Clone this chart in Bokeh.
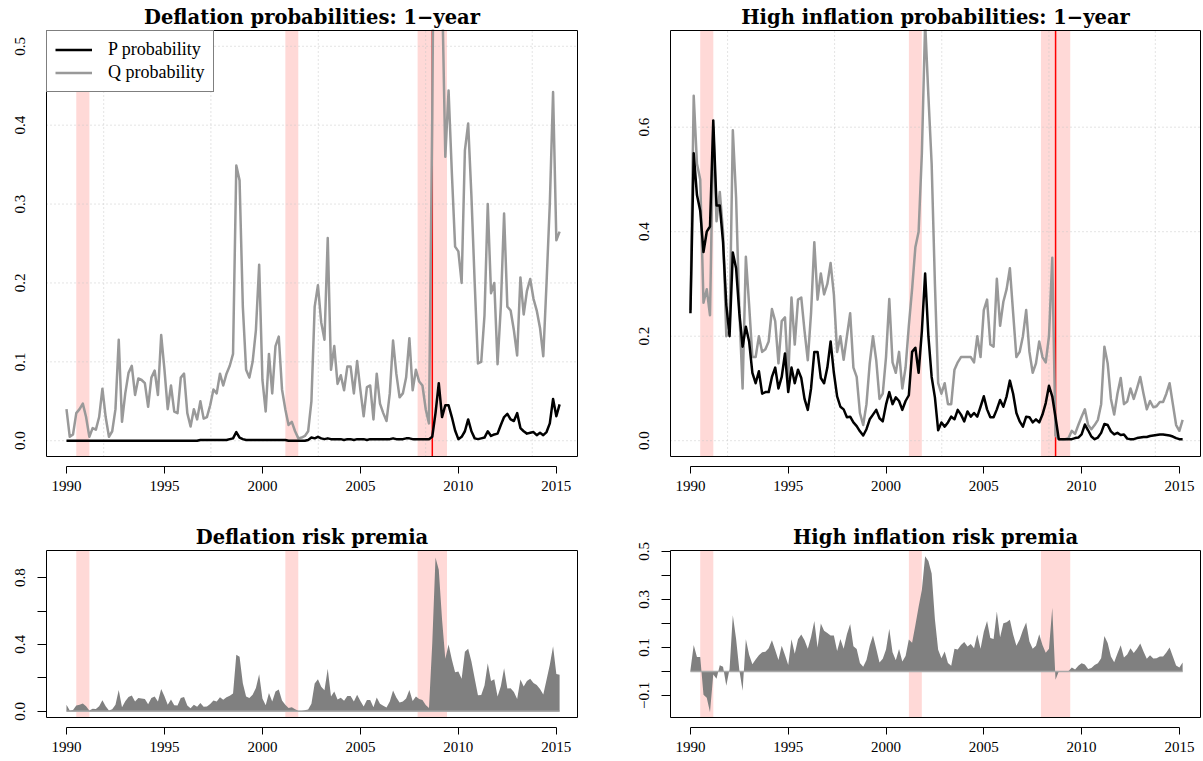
import numpy as np
from bokeh.plotting import figure
from bokeh.layouts import column, row
from bokeh.models import Range1d, FixedTicker, CustomJSTickFormatter, Legend
from bokeh.embed import file_html
from bokeh.resources import INLINE

FONT = "Liberation Serif"
TITLE_FONT = "DejaVu Serif"

# bi-monthly observations, January 1990 to March 2015
dates = 1990 + np.arange(152) / 6.0

# one-year deflation probabilities, physical (P) and risk-neutral (Q)
p_defl = [
    0.000, 0.000, 0.000, 0.000, 0.000, 0.000,  # 1990
    0.000, 0.000, 0.000, 0.000, 0.000, 0.000,  # 1991
    0.000, 0.000, 0.000, 0.000, 0.000, 0.000,  # 1992
    0.000, 0.000, 0.000, 0.000, 0.000, 0.000,  # 1993
    0.000, 0.000, 0.000, 0.000, 0.000, 0.000,  # 1994
    0.000, 0.000, 0.000, 0.000, 0.000, 0.000,  # 1995
    0.000, 0.000, 0.000, 0.000, 0.000, 0.001,  # 1996
    0.001, 0.001, 0.001, 0.001, 0.001, 0.001,  # 1997
    0.001, 0.001, 0.002, 0.003, 0.011, 0.004,  # 1998
    0.002, 0.001, 0.001, 0.001, 0.001, 0.001,  # 1999
    0.001, 0.001, 0.001, 0.001, 0.001, 0.001,  # 2000
    0.001, 0.001, 0.000, 0.000, 0.000, 0.000,  # 2001
    0.000, 0.000, 0.001, 0.004, 0.003, 0.005,  # 2002
    0.003, 0.002, 0.003, 0.002, 0.002, 0.002,  # 2003
    0.002, 0.001, 0.002, 0.002, 0.001, 0.002,  # 2004
    0.002, 0.002, 0.001, 0.002, 0.002, 0.002,  # 2005
    0.002, 0.002, 0.002, 0.002, 0.003, 0.002,  # 2006
    0.002, 0.002, 0.003, 0.003, 0.002, 0.002,  # 2007
    0.002, 0.002, 0.002, 0.002, 0.005, 0.035,  # 2008
    0.073, 0.030, 0.045, 0.045, 0.030, 0.013,  # 2009
    0.002, 0.005, 0.012, 0.027, 0.012, 0.003,  # 2010
    0.002, 0.003, 0.004, 0.012, 0.006, 0.008,  # 2011
    0.009, 0.020, 0.030, 0.034, 0.027, 0.025,  # 2012
    0.035, 0.016, 0.012, 0.009, 0.010, 0.011,  # 2013
    0.007, 0.010, 0.007, 0.011, 0.022, 0.053,  # 2014
    0.031, 0.046,                              # 2015
]
q_defl = [
    0.040, 0.005, 0.008, 0.035, 0.040, 0.047,  # 1990
    0.030, 0.005, 0.016, 0.014, 0.030, 0.066,  # 1991
    0.030, 0.005, 0.012, 0.040, 0.128, 0.024,  # 1992
    0.060, 0.086, 0.095, 0.058, 0.079, 0.077,  # 1993
    0.073, 0.043, 0.080, 0.089, 0.058, 0.134,  # 1994
    0.090, 0.040, 0.070, 0.037, 0.035, 0.080,  # 1995
    0.085, 0.035, 0.018, 0.040, 0.027, 0.050,  # 1996
    0.028, 0.030, 0.045, 0.065, 0.060, 0.085,  # 1997
    0.070, 0.085, 0.095, 0.110, 0.349, 0.330,  # 1998
    0.170, 0.090, 0.080, 0.100, 0.140, 0.223,  # 1999
    0.077, 0.037, 0.110, 0.060, 0.120, 0.132,  # 2000
    0.065, 0.040, 0.020, 0.024, 0.012, 0.003,  # 2001
    0.004, 0.006, 0.012, 0.050, 0.170, 0.197,  # 2002
    0.150, 0.128, 0.257, 0.090, 0.120, 0.072,  # 2003
    0.083, 0.064, 0.094, 0.094, 0.060, 0.101,  # 2004
    0.064, 0.031, 0.068, 0.070, 0.027, 0.085,  # 2005
    0.047, 0.035, 0.025, 0.060, 0.127, 0.085,  # 2006
    0.055, 0.060, 0.080, 0.130, 0.064, 0.090,  # 2007
    0.075, 0.070, 0.040, 0.022, 0.410, 0.955,  # 2008
    0.920, 0.580, 0.360, 0.444, 0.340, 0.246,  # 2009
    0.240, 0.200, 0.368, 0.402, 0.310, 0.200,  # 2010
    0.098, 0.100, 0.159, 0.300, 0.187, 0.200,  # 2011
    0.097, 0.170, 0.288, 0.170, 0.165, 0.140,  # 2012
    0.108, 0.207, 0.160, 0.190, 0.205, 0.180,  # 2013
    0.165, 0.143, 0.107, 0.200, 0.300, 0.442,  # 2014
    0.254, 0.265,                              # 2015
]

# one-year high inflation probabilities, physical (P) and risk-neutral (Q)
p_infl = [
    0.244, 0.550, 0.470, 0.440, 0.361, 0.400,  # 1990
    0.410, 0.613, 0.450, 0.450, 0.380, 0.260,  # 1991
    0.200, 0.360, 0.330, 0.244, 0.180, 0.218,  # 1992
    0.190, 0.130, 0.110, 0.133, 0.090, 0.093,  # 1993
    0.093, 0.122, 0.140, 0.100, 0.122, 0.167,  # 1994
    0.093, 0.140, 0.110, 0.136, 0.120, 0.080,  # 1995
    0.059, 0.100, 0.170, 0.170, 0.120, 0.110,  # 1996
    0.140, 0.190, 0.130, 0.085, 0.065, 0.060,  # 1997
    0.045, 0.046, 0.035, 0.028, 0.018, 0.010,  # 1998
    0.022, 0.041, 0.050, 0.059, 0.043, 0.037,  # 1999
    0.069, 0.093, 0.070, 0.083, 0.076, 0.059,  # 2000
    0.076, 0.087, 0.170, 0.178, 0.130, 0.210,  # 2001
    0.320, 0.200, 0.122, 0.083, 0.020, 0.035,  # 2002
    0.027, 0.035, 0.046, 0.041, 0.059, 0.050,  # 2003
    0.037, 0.056, 0.046, 0.053, 0.046, 0.065,  # 2004
    0.085, 0.060, 0.045, 0.045, 0.060, 0.078,  # 2005
    0.065, 0.085, 0.115, 0.090, 0.053, 0.037,  # 2006
    0.027, 0.046, 0.045, 0.035, 0.041, 0.035,  # 2007
    0.050, 0.072, 0.105, 0.085, 0.045, 0.003,  # 2008
    0.003, 0.003, 0.003, 0.003, 0.005, 0.006,  # 2009
    0.012, 0.031, 0.020, 0.008, 0.003, 0.006,  # 2010
    0.015, 0.032, 0.030, 0.018, 0.012, 0.015,  # 2011
    0.011, 0.012, 0.004, 0.003, 0.003, 0.005,  # 2012
    0.006, 0.007, 0.007, 0.009, 0.010, 0.011,  # 2013
    0.012, 0.012, 0.011, 0.010, 0.008, 0.005,  # 2014
    0.003, 0.003,                              # 2015
]
q_infl = [
    0.250, 0.660, 0.530, 0.500, 0.264, 0.290,  # 1990
    0.240, 0.600, 0.420, 0.476, 0.400, 0.200,  # 1991
    0.210, 0.594, 0.466, 0.250, 0.100, 0.352,  # 1992
    0.260, 0.160, 0.160, 0.200, 0.170, 0.175,  # 1993
    0.190, 0.252, 0.229, 0.148, 0.229, 0.236,  # 1994
    0.120, 0.274, 0.184, 0.270, 0.274, 0.210,  # 1995
    0.154, 0.244, 0.380, 0.270, 0.320, 0.280,  # 1996
    0.300, 0.340, 0.280, 0.170, 0.200, 0.155,  # 1997
    0.200, 0.244, 0.140, 0.122, 0.053, 0.030,  # 1998
    0.070, 0.148, 0.200, 0.154, 0.080, 0.090,  # 1999
    0.160, 0.271, 0.150, 0.130, 0.170, 0.100,  # 2000
    0.140, 0.220, 0.290, 0.370, 0.400, 0.550,  # 2001
    0.800, 0.660, 0.530, 0.300, 0.110, 0.090,  # 2002
    0.110, 0.070, 0.070, 0.136, 0.150, 0.160,  # 2003
    0.160, 0.160, 0.160, 0.150, 0.200, 0.160,  # 2004
    0.250, 0.270, 0.184, 0.180, 0.310, 0.220,  # 2005
    0.266, 0.290, 0.330, 0.244, 0.160, 0.170,  # 2006
    0.200, 0.250, 0.170, 0.130, 0.148, 0.190,  # 2007
    0.160, 0.150, 0.200, 0.350, 0.010, 0.003,  # 2008
    0.003, 0.003, 0.005, 0.019, 0.013, 0.030,  # 2009
    0.046, 0.060, 0.030, 0.022, 0.030, 0.040,  # 2010
    0.070, 0.180, 0.148, 0.080, 0.050, 0.090,  # 2011
    0.120, 0.070, 0.075, 0.100, 0.080, 0.100,  # 2012
    0.122, 0.090, 0.060, 0.076, 0.064, 0.066,  # 2013
    0.074, 0.074, 0.090, 0.110, 0.070, 0.030,  # 2014
    0.019, 0.040,                              # 2015
]

# NBER recessions and the Lehman bankruptcy
rec_start = [1990.50, 2001.17, 2007.92]
rec_end = [1991.17, 2001.83, 2009.42]
lehman = 2008.67

year_ticks = [1990, 1995, 2000, 2005, 2010, 2015]
grid_years = [1991.90, 1997.37, 2002.85, 2008.33, 2013.77]

# risk premia: risk-neutral minus physical probability
defl_premia = np.array(q_defl) - np.array(p_defl)
infl_premia = np.array(q_infl) - np.array(p_infl)

PINK = "#FFD9D7"
QGRAY = "#999999"
GAP = 10  # axis line sits below the plot box


def panel(box, fig, xr, yr, title, yticks, ylabels, yticks_drawn):
    bl, bt, bw, bh = box
    fx, fy, fw_, fh_ = fig
    ux = (xr[1] - xr[0]) / bw
    uy = (yr[1] - yr[0]) / bh
    frame_l = bl - 1 - fx
    frame_t = bt - 1 - fy
    frame_w = bw + 2
    frame_h = bh + 1 + GAP
    p = figure(width=fw_, height=fh_, frame_width=frame_w, frame_height=frame_h,
               min_border_left=frame_l, min_border_top=frame_t,
               min_border_right=fw_ - frame_l - frame_w,
               min_border_bottom=fh_ - frame_t - frame_h,
               x_range=Range1d(xr[0] - ux, xr[1] + ux),
               y_range=Range1d(yr[0] - GAP * uy, yr[1] + uy),
               output_backend="svg", toolbar_location=None, tools="")
    p.outline_line_color = None
    p.background_fill_color = "white"
    p.border_fill_color = "white"
    p.xgrid.visible = False
    p.ygrid.visible = False

    p.title.text = title
    p.title.align = "center"
    p.title.text_font = TITLE_FONT
    p.title.text_font_size = "19.5px"
    p.title.text_font_style = "bold"
    p.title.text_color = "black"
    p.title.standoff = 2

    xa = p.xaxis[0]
    xa.ticker = FixedTicker(ticks=year_ticks)
    xa.bounds = (year_ticks[0], year_ticks[-1])
    xa.axis_line_color = "black"
    xa.major_tick_in = 0
    xa.major_tick_out = 7
    xa.minor_tick_line_color = None
    xa.major_label_standoff = 7
    xa.major_label_text_font = FONT
    xa.major_label_text_font_size = "15px"
    xa.major_label_text_color = "black"

    ya = p.yaxis[0]
    ya.ticker = FixedTicker(ticks=yticks)
    ya.formatter = CustomJSTickFormatter(args=dict(shown=ylabels), code="""
        const keep = shown.some(v => Math.abs(v - tick) < 1e-9);
        if (!keep) return "";
        const s = Math.abs(tick).toFixed(1);
        return tick < -1e-9 ? "\u2212" + s : s;
    """)
    ya.axis_line_color = None
    ya.major_tick_in = 1
    ya.major_tick_out = 8
    ya.major_tick_line_color = "black" if yticks_drawn else None
    ya.minor_tick_line_color = None
    ya.major_label_orientation = "vertical"
    ya.major_label_standoff = 12
    ya.major_label_text_font = FONT
    ya.major_label_text_font_size = "15px"
    ya.major_label_text_color = "black"

    p.quad(left=rec_start, right=rec_end, bottom=yr[0], top=yr[1],
           fill_color=PINK, line_color=None)
    return p


def add_grid(p, xr, yr, yticks):
    p.segment(x0=grid_years, y0=yr[0], x1=grid_years, y1=yr[1],
              line_color="#C8C8C8", line_width=1, line_dash="1 3")
    p.segment(x0=xr[0], y0=yticks, x1=xr[1], y1=yticks,
              line_color="#C8C8C8", line_width=1, line_dash="1 3")


def add_box(p, xr, yr):
    p.quad(left=xr[0], right=xr[1], bottom=yr[0], top=yr[1],
           fill_color=None, line_color="black", line_width=1)


XR = (1988.98, 2016.08)

# deflation probabilities
yr_tl = (-0.02, 0.52)
yt_tl = [0.0, 0.1, 0.2, 0.3, 0.4, 0.5]
tl = panel((46, 30, 531, 426), (0, 0, 610, 510), XR, yr_tl,
           "Deflation probabilities: 1\u2212year", yt_tl, yt_tl, False)
add_grid(tl, XR, yr_tl, yt_tl)
tl.segment(x0=[lehman], y0=[yr_tl[0]], x1=[lehman], y1=[yr_tl[1]], line_color="red", line_width=1.5)
q1 = tl.line(dates, q_defl, line_color=QGRAY, line_width=2.5, line_join="round")
p1 = tl.line(dates, p_defl, line_color="black", line_width=2.5, line_join="round")
add_box(tl, XR, yr_tl)
legend = Legend(items=[("P probability", [p1]), ("Q probability", [q1])],
                location="top_left", margin=1, padding=8, spacing=2,
                glyph_width=37, glyph_height=19, label_height=19, label_standoff=16,
                label_text_font=FONT, label_text_font_size="18px", label_text_color="black",
                border_line_color="black", border_line_width=1,
                background_fill_color="white", background_fill_alpha=1.0)
tl.add_layout(legend)

# high inflation probabilities
yr_tr = (-0.0302, 0.785)
yt_tr = [0.0, 0.2, 0.4, 0.6]
tr = panel((670, 30, 530, 426), (610, 0, 593, 510), XR, yr_tr,
           "High inflation probabilities: 1\u2212year", yt_tr, yt_tr, False)
add_grid(tr, XR, yr_tr, yt_tr)
tr.segment(x0=[lehman], y0=[yr_tr[0]], x1=[lehman], y1=[yr_tr[1]], line_color="red", line_width=1.5)
tr.line(dates, q_infl, line_color=QGRAY, line_width=2.5, line_join="round")
tr.line(dates, p_infl, line_color="black", line_width=2.5, line_join="round")
add_box(tr, XR, yr_tr)

# deflation risk premia
yr_bl = (-0.037, 0.962)
bl = panel((46, 550, 531, 167), (0, 510, 610, 251), XR, yr_bl,
           "Deflation risk premia", [0.0, 0.2, 0.4, 0.6, 0.8], [0.0, 0.4, 0.8], True)
bl.varea(x=dates, y1=0, y2=defl_premia, fill_color="#808080")
bl.line([dates[0], dates[-1]], [0, 0], line_color="#A8A8A8", line_width=1.5)
add_box(bl, XR, yr_bl)

# high inflation risk premia
yr_br = (-0.192, 0.504)
br = panel((670, 550, 530, 167), (610, 510, 593, 251), XR, yr_br,
           "High inflation risk premia", [-0.1, 0.0, 0.1, 0.2, 0.3, 0.4, 0.5],
           [-0.1, 0.1, 0.3, 0.5], True)
br.varea(x=dates, y1=0, y2=infl_premia, fill_color="#808080")
br.line([dates[0], dates[-1]], [0, 0], line_color="#A8A8A8", line_width=1.5)
add_box(br, XR, yr_br)

layout = column(row(tl, tr), row(bl, br))
open("out.html", "w").write(file_html(layout, INLINE))
